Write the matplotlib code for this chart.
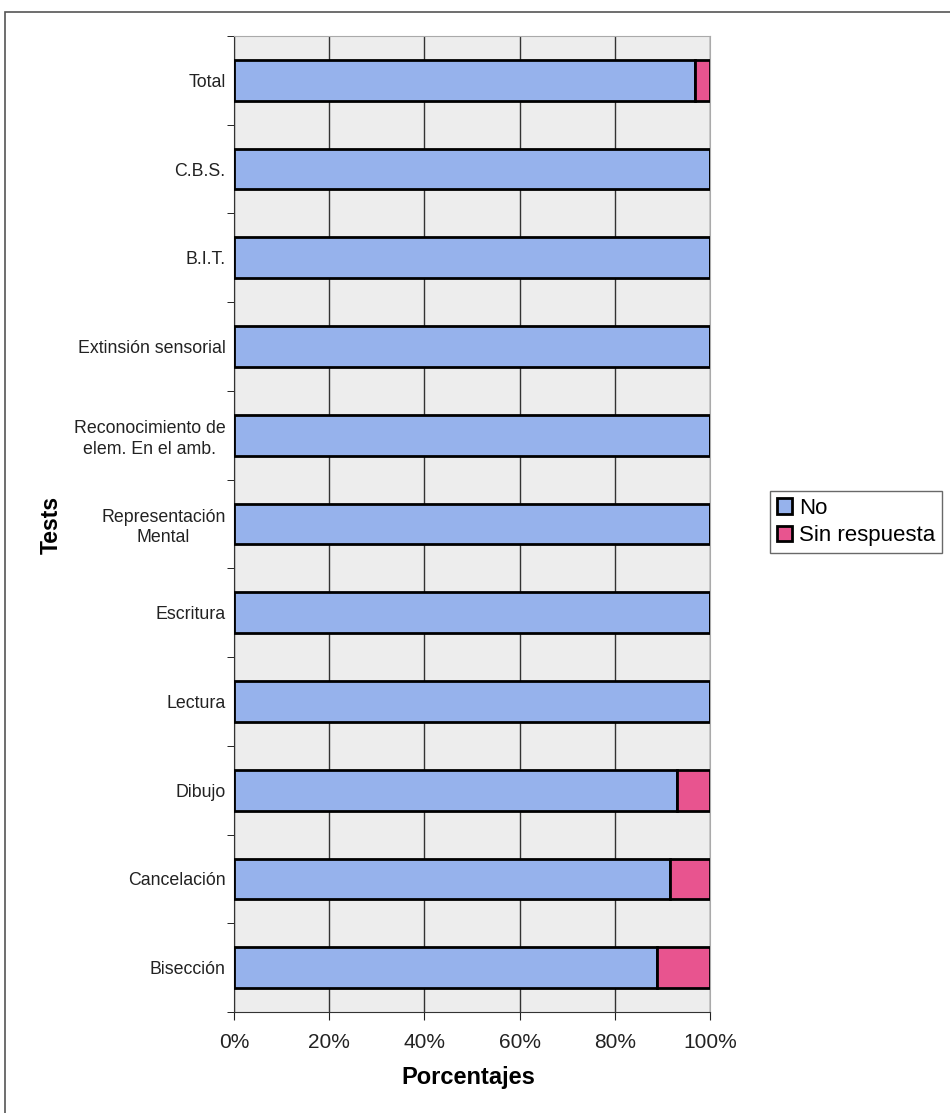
import matplotlib.pyplot as plt
from matplotlib.patches import Rectangle
from matplotlib.ticker import FixedLocator, PercentFormatter

plt.rcParams['font.family'] = ['Liberation Sans', 'DejaVu Sans']

# categories listed bottom to top (barh draws index 0 at the bottom)
tests = ["Bisección", "Cancelación", "Dibujo", "Lectura", "Escritura",
         "Representación\nMental", "Reconocimiento de\nelem. En el amb.",
         "Extinsión sensorial", "B.I.T.", "C.B.S.", "Total"]
no_pct = [88.8, 91.6, 93.0, 100, 100, 100, 100, 100, 100, 100, 96.8]
sin_resp_pct = [11.2, 8.4, 7.0, 0, 0, 0, 0, 0, 0, 0, 3.2]

blue = "#96b2ec"
pink = "#e8548f"

fig = plt.figure(figsize=(9.5, 11.13), dpi=100)
fig.patch.set_facecolor("white")

# outer chart frame (scan shows it running off the right / bottom edge)
fig.add_artist(Rectangle((5 / 950, -0.01), 1.0, 1 - 12 / 1113 + 0.01,
                         transform=fig.transFigure, fill=False,
                         edgecolor="#555555", linewidth=1.2))

ax = fig.add_axes([234 / 950, 1 - 1012 / 1113, 476 / 950, 976 / 1113])
ax.set_facecolor("#ededed")

y = range(len(tests))
ax.barh(y, no_pct, height=0.46, color=blue, edgecolor="black",
        linewidth=2, label="No", zorder=3)
ax.barh(y, sin_resp_pct, left=no_pct, height=0.46, color=pink,
        edgecolor="black", linewidth=2, label="Sin respuesta", zorder=3)

ax.set_xlim(0, 100)
ax.set_ylim(-0.5, len(tests) - 0.5)
ax.set_xticks([0, 20, 40, 60, 80, 100])
ax.xaxis.set_major_formatter(PercentFormatter(decimals=0))
ax.set_yticks(list(y))
ax.set_yticklabels(tests, fontsize=12.8, color="#222222", linespacing=1.25)
for lbl in ax.get_yticklabels():
    lbl.set_multialignment("center")
ax.yaxis.set_minor_locator(FixedLocator([i - 0.5 for i in range(len(tests) + 1)]))
ax.tick_params(axis="y", which="major", length=0, pad=6)
ax.tick_params(axis="y", which="minor", length=5, direction="out")
ax.tick_params(axis="x", length=6, direction="out", labelsize=15,
               pad=9, colors="#222222")

ax.grid(axis="x", color="#333333", linewidth=1, zorder=1)
ax.set_axisbelow(True)
for side in ["top", "right"]:
    ax.spines[side].set_color("#aaaaaa")
ax.spines["left"].set_color("#333333")
ax.spines["bottom"].set_color("#333333")

ax.set_xlabel("Porcentajes", fontsize=17, fontweight="bold",
              va="center", ha="center")
ax.xaxis.set_label_coords(0.4926, -0.0676)
ax.set_ylabel("Tests", fontsize=16.5, fontweight="bold",
              va="center", ha="center")
ax.yaxis.set_label_coords(-0.3845, 0.499)

leg = fig.legend(loc="upper left", bbox_to_anchor=(770 / 950, 1 - 491 / 1113),
                 fontsize=16, frameon=True, fancybox=False, edgecolor="#444444",
                 handlelength=0.7, handleheight=0.7, handletextpad=0.3,
                 borderpad=0.3, labelspacing=0.3, borderaxespad=0)
leg.get_frame().set_linewidth(1)

fig.savefig("out.png", dpi=100)
